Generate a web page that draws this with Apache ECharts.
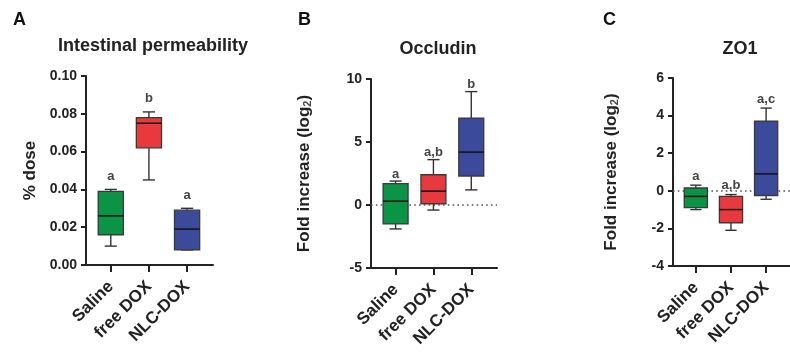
<!DOCTYPE html>
<html>
<head>
<meta charset="utf-8">
<script src="https://cdn.jsdelivr.net/npm/echarts@6/dist/echarts.min.js"></script>
<style>
html,body{margin:0;padding:0;background:#fff;}
#chart{width:790px;height:352px;}
</style>
</head>
<body>
<div id="chart"></div>
<script>
const categories = ['Saline', 'free DOX', 'NLC-DOX'];
// each row: [min, Q1, median, Q3, max]
const permeability = [
  [0.010, 0.016, 0.026, 0.039, 0.040],
  [0.045, 0.062, 0.075, 0.078, 0.081],
  [0.008, 0.008, 0.019, 0.029, 0.030]
];
const occludin = [
  [-1.9, -1.5, 0.3, 1.7, 1.9],
  [-0.4, 0.1, 1.1, 2.4, 3.6],
  [1.2, 2.3, 4.2, 6.9, 9.0]
];
const zo1 = [
  [-1.0, -0.9, -0.3, 0.15, 0.3],
  [-2.1, -1.7, -1.0, -0.3, -0.2],
  [-0.45, -0.25, 0.9, 3.7, 4.4]
];
const permeabilityLetters = ['a', 'b', 'a'];
const occludinLetters = ['a', 'a,b', 'b'];
const zo1Letters = ['a', 'a,b', 'a,c'];
const panelTitles = ['Intestinal permeability', 'Occludin', 'ZO1'];
const panelLetters = ['A', 'B', 'C'];
const yTicksA = [0, 0.1, 0.02];
const yTicksB = [-5, 10, 5];
const yTicksC = [-4, 6, 2];

const boxColors = ['#0b9445', '#e8393f', '#3b4a9b'];
const FONT = '"Liberation Sans", Arial, sans-serif';

const chart = echarts.init(document.getElementById('chart'));

function toRows(stats) {
  return stats.map((s, i) => [i].concat(s));
}

function makeRender(letters, labelGap) {
  return function (params, api) {
    const idx = api.value(0);
    const mn = api.value(1), q1 = api.value(2), md = api.value(3), q3 = api.value(4), mx = api.value(5);
    const hw = 0.33, cw = 0.16;
    const pTL = api.coord([idx - hw, q3]);
    const pBR = api.coord([idx + hw, q1]);
    const pMax = api.coord([idx, mx]);
    const pMin = api.coord([idx, mn]);
    const pQ3 = api.coord([idx, q3]);
    const pQ1 = api.coord([idx, q1]);
    const capL = api.coord([idx - cw, mx])[0];
    const capR = api.coord([idx + cw, mx])[0];
    const medL = api.coord([idx - hw, md]);
    const medR = api.coord([idx + hw, md]);
    const ws = { stroke: '#333', lineWidth: 1.4 };
    return {
      type: 'group',
      children: [
        { type: 'line', shape: { x1: pMax[0], y1: pMax[1], x2: pQ3[0], y2: pQ3[1] }, style: ws },
        { type: 'line', shape: { x1: pMin[0], y1: pMin[1], x2: pQ1[0], y2: pQ1[1] }, style: ws },
        { type: 'line', shape: { x1: capL, y1: pMax[1], x2: capR, y2: pMax[1] }, style: ws },
        { type: 'line', shape: { x1: capL, y1: pMin[1], x2: capR, y2: pMin[1] }, style: ws },
        { type: 'rect', shape: { x: pTL[0], y: pTL[1], width: pBR[0] - pTL[0], height: pBR[1] - pTL[1] },
          style: { fill: boxColors[idx], stroke: '#3a3a3a', lineWidth: 1.3 } },
        { type: 'line', shape: { x1: medL[0], y1: medL[1], x2: medR[0], y2: medR[1] }, style: { stroke: '#111', lineWidth: 1.5 } },
        { type: 'text', style: { text: letters[idx], x: pMax[0], y: pMax[1] - labelGap, align: 'center', verticalAlign: 'middle',
            fill: '#444', font: 'bold 13px ' + FONT } }
      ]
    };
  };
}

function xAxisCfg(gridIndex) {
  return {
    type: 'value', gridIndex: gridIndex, min: -0.65, max: 2.68,
    axisLine: { show: true, onZero: false, lineStyle: { color: '#222', width: 2 } },
    axisTick: { show: true, length: 7, lineStyle: { color: '#222', width: 2 }, customValues: [0, 1, 2] },
    axisLabel: { customValues: [0, 1, 2], formatter: v => categories[Math.round(v)], rotate: 45, margin: 19,
      color: '#222', fontSize: 17, fontWeight: 'bold', fontFamily: FONT },
    splitLine: { show: false }
  };
}

function yAxisCfg(gridIndex, ticks, name, nameGap, fmt) {
  return {
    type: 'value', gridIndex: gridIndex, min: ticks[0], max: ticks[1], interval: ticks[2],
    name: name, nameLocation: 'middle', nameGap: nameGap,
    nameTextStyle: { color: '#222', fontSize: 17, fontWeight: 'bold', fontFamily: FONT,
      rich: { sub: { fontSize: 11, color: '#444', fontFamily: FONT, verticalAlign: 'bottom', padding: [6, 0, 0, 0] } } },
    axisLine: { show: true, onZero: false, lineStyle: { color: '#222', width: 2 } },
    axisTick: { show: true, length: 5, lineStyle: { color: '#222', width: 2 } },
    axisLabel: { margin: 9, color: '#222', fontSize: 14, fontWeight: 'bold', fontFamily: FONT, formatter: fmt },
    splitLine: { show: false }
  };
}

const zeroLine = {
  silent: true, symbol: 'none', z: 1, label: { show: false },
  lineStyle: { color: '#555', width: 1.6, type: [1.6, 3.2] },
  data: [{ yAxis: 0 }]
};

const letterStyle = { fontSize: 18, fontWeight: 'bold', color: '#111', fontFamily: FONT };
const titleStyle = { fontSize: 18, fontWeight: 'bold', color: '#222', fontFamily: FONT };

const option = {
  backgroundColor: '#fff',
  animation: false,
  title: [
    { text: panelLetters[0], left: 8, top: 6, textStyle: letterStyle },
    { text: panelLetters[1], left: 293, top: 6, textStyle: letterStyle },
    { text: panelLetters[2], left: 598, top: 6, textStyle: letterStyle },
    { text: panelTitles[0], left: 148, top: 32, textAlign: 'center', textStyle: titleStyle },
    { text: panelTitles[1], left: 433, top: 35, textAlign: 'center', textStyle: titleStyle },
    { text: panelTitles[2], left: 735, top: 35, textAlign: 'center', textStyle: titleStyle }
  ],
  grid: [
    { left: 86, top: 76, width: 127, height: 189 },
    { left: 371, top: 79, width: 126, height: 189 },
    { left: 673, top: 78, width: 126, height: 188 }
  ],
  xAxis: [xAxisCfg(0), xAxisCfg(1), xAxisCfg(2)],
  yAxis: [
    yAxisCfg(0, yTicksA, '% dose', 47, v => v.toFixed(2)),
    yAxisCfg(1, yTicksB, 'Fold increase (log{sub|2})', 58, v => String(v)),
    yAxisCfg(2, yTicksC, 'Fold increase (log{sub|2})', 53, v => String(v))
  ],
  series: [
    { type: 'custom', xAxisIndex: 0, yAxisIndex: 0, z: 3, renderItem: makeRender(permeabilityLetters, 13),
      encode: { x: 0, y: [1, 2, 3, 4, 5] }, data: toRows(permeability) },
    { type: 'custom', xAxisIndex: 1, yAxisIndex: 1, z: 3, renderItem: makeRender(occludinLetters, 7),
      encode: { x: 0, y: [1, 2, 3, 4, 5] }, data: toRows(occludin), markLine: zeroLine },
    { type: 'custom', xAxisIndex: 2, yAxisIndex: 2, z: 3, renderItem: makeRender(zo1Letters, 9),
      encode: { x: 0, y: [1, 2, 3, 4, 5] }, data: toRows(zo1), markLine: zeroLine }
  ]
};
chart.setOption(option);
</script>
</body>
</html>
